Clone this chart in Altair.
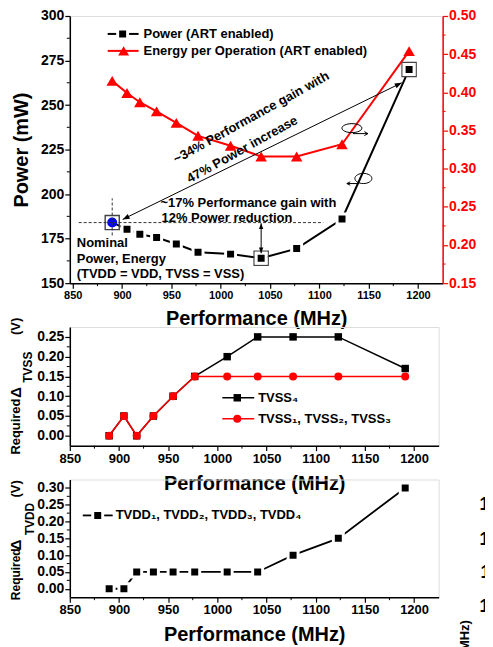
import altair as alt
import pandas as pd

# ---------------- data ----------------
perf = [890, 905, 918, 935, 955, 977, 1010, 1041, 1077, 1123, 1191]
power = [184.0, 180.3, 177.5, 175.6, 172.0, 167.4, 166.3, 164.0, 169.4, 186.0, 270.0]
energy = [0.415, 0.399, 0.387, 0.375, 0.360, 0.343, 0.330, 0.316, 0.316, 0.332, 0.454]
tvss4 = [0.00, 0.05, 0.00, 0.05, 0.10, 0.15, 0.20, 0.25, 0.25, 0.25, 0.17]
tvss123 = [0.00, 0.05, 0.00, 0.05, 0.10, 0.15, 0.15, 0.15, 0.15, 0.15, 0.15]
tvdd = [0.00, 0.00, 0.05, 0.05, 0.05, 0.05, 0.05, 0.05, 0.10, 0.15, 0.30]

nominal_perf = [890]
nominal_power = [184.0]
boxed_perf = [890, 1041, 1191]
boxed_power = [184.0, 164.0, 270.0]

x_ticks = [850, 900, 950, 1000, 1050, 1100, 1150, 1200]
x_minor = [875, 925, 975, 1025, 1075, 1125, 1175]
power_ticks = [150, 175, 200, 225, 250, 275, 300]
power_minor = [162.5, 187.5, 212.5, 237.5, 262.5, 287.5]
energy_ticks = [0.15, 0.20, 0.25, 0.30, 0.35, 0.40, 0.45, 0.50]
energy_minor = [0.175, 0.225, 0.275, 0.325, 0.375, 0.425, 0.475]
tvss_ticks = [0.00, 0.05, 0.10, 0.15, 0.20, 0.25]
tvss_minor = [0.025, 0.075, 0.125, 0.175, 0.225]
tvdd_ticks = [0.00, 0.05, 0.10, 0.15, 0.20, 0.25, 0.30]
tvdd_minor = [0.025, 0.075, 0.125, 0.175, 0.225, 0.275]
side_labels = ["13", "12", "11", "10", "9"]

# annotation geometry in data units
long_arrow_start = [900.6, 185.8]
long_arrow_end = [1183.5, 262.5]
hdash = [856, 1104, 184.0]
vdash = [890, 176.8, 197.6]
varrow = [1041, 166.8, 183.6]

# ---------------- style ----------------
FONT = "Liberation Sans"
RED = "#ff0000"
BLUE = "#0000ff"
ARROW = "M0,0L-0.42,1.1L0.42,1.1Z"
CURL_R = "M-1,0A1,0.45 0 1,1 1,0A1,0.45 0 1,1 -1,0M0.1,0.55L1.6,0.55M1.25,0.35L1.6,0.55L1.25,0.75"
CURL_L = "M-1,0A1,0.6 0 1,1 1,0A1,0.6 0 1,1 -1,0M-0.6,0.6L-1.95,0.6M-1.55,0.4L-1.95,0.6L-1.55,0.8"
one = alt.Data(values=[{}])

W1, H1 = 374, 268
W2, H2 = 370, 119
W3, H3 = 370, 118


def ax(**kw):
    base = dict(labelFont=FONT, titleFont=FONT, labelFontWeight="bold", titleFontWeight="bold",
                labelFlush=False, labelOverlap=False, tickSize=5, tickWidth=1.2, domainWidth=1.5,
                domainColor="black", tickColor="black", labelColor="black", titleColor="black",
                grid=False)
    base.update(kw)
    return alt.Axis(**base)


def xenc(domain, labsize):
    return alt.X("perf:Q", scale=alt.Scale(domain=domain, nice=False, zero=False),
                 axis=ax(values=x_ticks, format="d", title="Performance (MHz)", labelFontSize=labsize,
                         titleFontSize=20, labelPadding=1.5, titlePadding=8))


def txt(s, x, y, size=13, angle=0, align="left", baseline="middle", color="black"):
    return alt.Chart(one).mark_text(text=s, fontSize=size, angle=angle, align=align, baseline=baseline,
                                    color=color, font=FONT, fontWeight="bold").encode(
        x=alt.value(x), y=alt.value(y))


def hline_px(x1, x2, y, color, width=2):
    return alt.Chart(one).mark_rule(color=color, strokeWidth=width).encode(
        x=alt.value(x1), x2=alt.value(x2), y=alt.value(y))


def vline_px(x, y1, y2, color, width=1):
    return alt.Chart(one).mark_rule(color=color, strokeWidth=width).encode(
        x=alt.value(x), y=alt.value(y1), y2=alt.value(y2))


def sym_px(x, y, shape, color, size, filled=True, stroke=None, sw=1):
    kw = dict(shape=shape, size=size, opacity=1, filled=filled, color=color, strokeWidth=sw)
    if stroke:
        kw["stroke"] = stroke
    return alt.Chart(one).mark_point(**kw).encode(x=alt.value(x), y=alt.value(y))


# ---------------- top panel ----------------
df_top = pd.DataFrame({"perf": perf, "power": power, "energy": energy})
df_nom = pd.DataFrame({"perf": nominal_perf, "power": nominal_power})
df_box = pd.DataFrame({"perf": boxed_perf, "power": boxed_power})

X1 = xenc([847, 1225], 11)
Yp = alt.Y("power:Q", scale=alt.Scale(domain=[150, 300], nice=False, zero=False),
           axis=ax(values=power_ticks, title="Power (mW)", orient="left", labelFontSize=14,
                   titleFontSize=20, labelPadding=1, titlePadding=9))
Ye = alt.Y("energy:Q", scale=alt.Scale(domain=[0.15, 0.50], nice=False, zero=False),
           axis=ax(values=energy_ticks, format=".2f", orient="right", title="Energy per Operation (nJ)",
                   titleAngle=270, titleBaseline="top", labelColor=RED, domainColor=RED, tickColor=RED,
                   labelFontSize=14, titleFontSize=20, labelPadding=1, titlePadding=12))

power_line = alt.Chart(df_top).mark_line(color="black", strokeWidth=2).encode(x=X1, y=Yp)
boxes = alt.Chart(df_box).mark_point(shape="square", filled=False, color="#444", size=200,
                                     strokeWidth=1.4, opacity=1).encode(x=X1, y=Yp)
power_sq = alt.Chart(df_top).transform_filter("datum.perf > 890").mark_square(
    size=100, color="black", stroke="white", strokeWidth=3, opacity=1).encode(x=X1, y=Yp)
nominal = alt.Chart(df_nom).mark_circle(size=100, color=BLUE, opacity=1).encode(x=X1, y=Yp)

df_la = pd.DataFrame({"perf": [long_arrow_start[0]], "power": [long_arrow_start[1]],
                      "perf2": [long_arrow_end[0]], "power2": [long_arrow_end[1]]})
long_line = alt.Chart(df_la).mark_rule(color="black", strokeWidth=1).encode(
    x=X1, y=Yp, x2="perf2:Q", y2="power2:Q")
head_a = alt.Chart(pd.DataFrame({"perf": [long_arrow_end[0]], "power": [long_arrow_end[1]]})).mark_point(
    shape=ARROW, filled=True, color="black", size=160, angle=64, opacity=1).encode(x=X1, y=Yp)
head_b = alt.Chart(pd.DataFrame({"perf": [long_arrow_start[0]], "power": [long_arrow_start[1]]})).mark_point(
    shape=ARROW, filled=True, color="black", size=160, angle=244, opacity=1).encode(x=X1, y=Yp)

hd = alt.Chart(pd.DataFrame({"perf": [hdash[0]], "perf2": [hdash[1]], "power": [hdash[2]]})).mark_rule(
    color="#333", strokeWidth=1, strokeDash=[3, 2]).encode(x=X1, x2="perf2:Q", y=Yp)
vd = alt.Chart(pd.DataFrame({"perf": [vdash[0]], "power": [vdash[1]], "power2": [vdash[2]]})).mark_rule(
    color="#333", strokeWidth=1, strokeDash=[3, 2]).encode(x=X1, y=Yp, y2="power2:Q")
va = alt.Chart(pd.DataFrame({"perf": [varrow[0]], "power": [varrow[1]], "power2": [varrow[2]]})).mark_rule(
    color="black", strokeWidth=1).encode(x=X1, y=Yp, y2="power2:Q")
va_top = alt.Chart(pd.DataFrame({"perf": [varrow[0]], "power": [varrow[2]]})).mark_point(
    shape=ARROW, filled=True, color="black", size=110, angle=0, opacity=1).encode(x=X1, y=Yp)
va_bot = alt.Chart(pd.DataFrame({"perf": [varrow[0]], "power": [varrow[1]]})).mark_point(
    shape=ARROW, filled=True, color="black", size=110, angle=180, opacity=1).encode(x=X1, y=Yp)

xminor1 = alt.Chart(pd.DataFrame({"perf": x_minor})).mark_rule(color="black", strokeWidth=1).encode(
    x=X1, y=alt.value(H1), y2=alt.value(H1 + 3))
pminor = alt.Chart(pd.DataFrame({"power": power_minor})).mark_rule(color="black", strokeWidth=1).encode(
    y=Yp, x=alt.value(0), x2=alt.value(-3))

power_group = alt.layer(
    power_line, boxes, power_sq, nominal, long_line, head_a, head_b, hd, vd, va, va_top, va_bot,
    xminor1, pminor,
    # legend
    hline_px(38, 69, 18, "black"), sym_px(53, 18, "square", "black", 100, stroke="white", sw=3),
    txt("Power (ART enabled)", 74, 18),
    hline_px(38, 69, 35, RED), sym_px(54, 35, "triangle-up", RED, 120),
    txt("Energy per Operation (ART enabled)", 74, 35),
    # annotations
    txt("~34% Performance gain with", 182, 102, angle=331, align="center"),
    txt("47% Power increase", 173, 134, angle=331, align="center"),
    txt("~17% Performance gain with", 91, 188),
    txt("12% Power reduction", 92, 203),
    txt("Nominal", 7, 228),
    txt("Power, Energy", 7, 244),
    txt("(TVDD = VDD, TVSS = VSS)", 7, 259),
    sym_px(283, 112.5, CURL_R, "black", 400, filled=False, sw=1),
    sym_px(294.5, 163, CURL_L, "black", 289, filled=False, sw=1),
    # invisible page-extent markers (white on white)
    hline_px(100, 101, -7.5, "white", 1),
    vline_px(-60.5, 100, 101, "white", 1),
    vline_px(460, 100, 101, "white", 1),
)

energy_line = alt.Chart(df_top).mark_line(color=RED, strokeWidth=2).encode(x=X1, y=Ye)
energy_tri = alt.Chart(df_top).mark_point(shape="triangle-up", filled=True, color=RED, size=132,
                                          opacity=1).encode(x=X1, y=Ye)
eminor = alt.Chart(pd.DataFrame({"energy": energy_minor})).mark_rule(color=RED, strokeWidth=1).encode(
    y=Ye, x=alt.value(W1), x2=alt.value(W1 + 3))
energy_group = alt.layer(energy_line, energy_tri, eminor)

top = alt.layer(energy_group, power_group).resolve_scale(y="independent").properties(width=W1, height=H1)

# ---------------- middle panel ----------------
df_mid = pd.DataFrame({"perf": perf, "tvss4": tvss4, "tvss123": tvss123})
X2 = xenc([850, 1225], 13)


def ymid(field):
    return alt.Y(field + ":Q", scale=alt.Scale(domain=[-0.025, 0.275], nice=False, zero=False),
                 axis=ax(values=tvss_ticks, format=".2f", title=None, labelFontSize=14, labelPadding=1))


mid = alt.layer(
    alt.Chart(df_mid).mark_line(color="black", strokeWidth=1.5).encode(x=X2, y=ymid("tvss4")),
    alt.Chart(df_mid).mark_square(size=56, color="black", opacity=1).encode(x=X2, y=ymid("tvss4")),
    alt.Chart(df_mid).mark_line(color=RED, strokeWidth=1.5).encode(x=X2, y=ymid("tvss123")),
    alt.Chart(df_mid).mark_circle(size=64, color=RED, opacity=1).encode(x=X2, y=ymid("tvss123")),
    alt.Chart(pd.DataFrame({"perf": x_minor})).mark_rule(color="black", strokeWidth=1).encode(
        x=X2, y=alt.value(H2), y2=alt.value(H2 + 3)),
    alt.Chart(pd.DataFrame({"v": tvss_minor})).mark_rule(color="black", strokeWidth=1).encode(
        y=ymid("v"), x=alt.value(0), x2=alt.value(-3)),
    hline_px(153, 185, 71, "black", 1.5), sym_px(168, 71, "square", "black", 56),
    txt("TVSS\u2084", 189, 71),
    hline_px(153, 185, 92, RED, 1.5), sym_px(168, 92, "circle", RED, 64),
    txt("TVSS\u2081, TVSS\u2082, TVSS\u2083", 189, 92),
    txt("Required", -54, 128, size=13, angle=270),
    txt("\u0394", -54, 71, size=15, angle=270),
    txt("TVSS", -42, 56, size=12, angle=270),
    txt("(V)", -54, 8, size=13, angle=270),
).properties(width=W2, height=H2)

# ---------------- bottom panel ----------------
df_bot = pd.DataFrame({"perf": perf, "tvdd": tvdd})
X3 = xenc([850, 1225], 13)


def ybot(field):
    return alt.Y(field + ":Q", scale=alt.Scale(domain=[-0.025, 0.325], nice=False, zero=False),
                 axis=ax(values=tvdd_ticks, format=".2f", title=None, labelFontSize=14, labelPadding=1))


bot = alt.layer(
    alt.Chart(df_bot).mark_line(color="black", strokeWidth=1.8).encode(x=X3, y=ybot("tvdd")),
    alt.Chart(df_bot).mark_square(size=100, color="black", stroke="white", strokeWidth=3,
                                  opacity=1).encode(x=X3, y=ybot("tvdd")),
    alt.Chart(pd.DataFrame({"perf": x_minor})).mark_rule(color="black", strokeWidth=1).encode(
        x=X3, y=alt.value(H3), y2=alt.value(H3 + 3)),
    alt.Chart(pd.DataFrame({"v": tvdd_minor})).mark_rule(color="black", strokeWidth=1).encode(
        y=ybot("v"), x=alt.value(0), x2=alt.value(-3)),
    hline_px(13, 43, 36, "black", 1.8), sym_px(28, 36, "square", "black", 100, stroke="white", sw=3),
    txt("TVDD\u2081, TVDD\u2082, TVDD\u2083, TVDD\u2084", 46, 36),
    txt("Required", -54, 121, size=12, angle=270),
    txt("\u0394", -54, 71, size=15, angle=270),
    txt("TVDD", -40, 56, size=12, angle=270),
    txt("(V)", -54, 18, size=13, angle=270),
    # edge of the neighbouring figure
    txt(side_labels[0], 431, 26, size=18, align="right"),
    txt(side_labels[1], 431, 61, size=18, align="right"),
    txt(side_labels[2], 431, 94, size=18, align="right"),
    txt(side_labels[3], 431, 128, size=18, align="right"),
    txt(side_labels[4], 431, 161, size=18, align="right"),
    txt("MHz)", 396, 141, size=13, angle=270, align="right"),
).properties(width=W3, height=H3)

inner = alt.vconcat(mid, bot, spacing=34, bounds="flush")
chart = alt.vconcat(top, inner, spacing=44, bounds="flush").properties(
    padding={"left": 0, "top": -2, "right": -44.5, "bottom": 0}
).configure_view(stroke=None).configure(font=FONT)

chart.save("out.html", embed_options={"renderer": "svg", "actions": False})
